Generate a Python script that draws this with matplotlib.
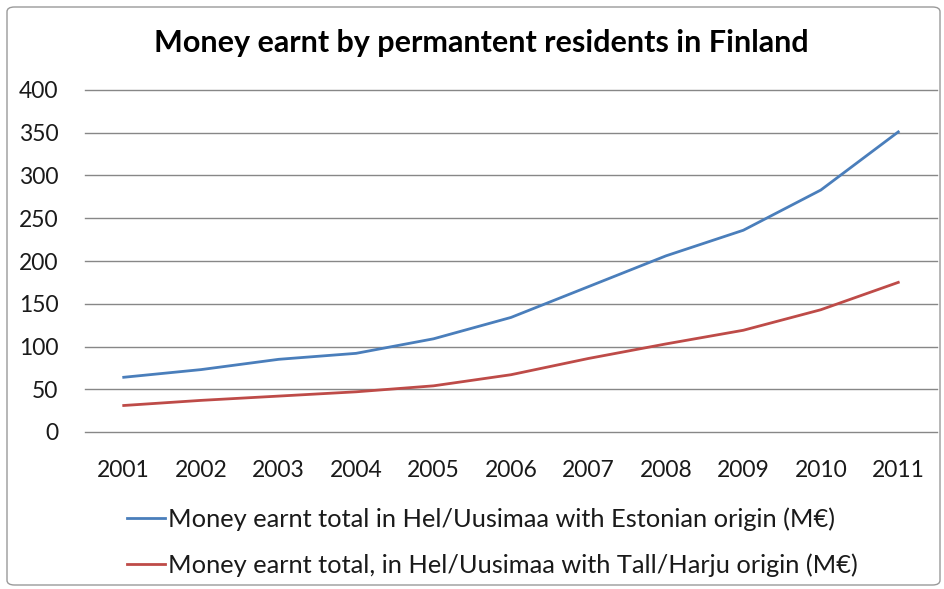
import matplotlib
matplotlib.use('Agg')
import matplotlib.pyplot as plt
from matplotlib.patches import FancyBboxPatch

plt.rcParams['font.family'] = ['Lato', 'DejaVu Sans']

years = ['2001', '2002', '2003', '2004', '2005', '2006',
         '2007', '2008', '2009', '2010', '2011']
estonian = [64, 73, 85, 92, 109, 134, 170, 206, 236, 283, 351]
tall_harju = [31, 37, 42, 47, 54, 67, 86, 103, 119, 143, 175]
y_ticks = [0, 50, 100, 150, 200, 250, 300, 350, 400]

label_est = 'Money earnt total in Hel/Uusimaa with Estonian origin (M€)'
label_th = 'Money earnt total, in Hel/Uusimaa with Tall/Harju origin (M€)'

W, H = 944, 589
fig = plt.figure(figsize=(W / 100, H / 100), dpi=100)

# rounded chart border like the excel chart frame
frame = FancyBboxPatch((7 / W, 4 / H), (933 / W), (578 / H),
                       boxstyle='round,pad=0,rounding_size=0.008',
                       transform=fig.transFigure, fill=False,
                       edgecolor='#9a9a9a', linewidth=1.0)
fig.patches.append(frame)

ax = fig.add_axes([85 / W, 157 / H, (937 - 85) / W, (432 - 90) / H])
x = list(range(len(years)))
l1, = ax.plot(x, estonian, color='#4A7EBB', linewidth=2.0)
l2, = ax.plot(x, tall_harju, color='#BE4B48', linewidth=2.0)

ax.set_xlim(-0.5, len(years) - 0.5)
ax.set_ylim(0, 400)
ax.set_yticks(y_ticks)
ax.set_xticks(x)
ax.set_xticklabels(years)
ax.yaxis.grid(True, color='#878787', linewidth=1.0)
for gl in ax.get_ygridlines():
    gl.set_clip_on(False)   # else the 0 line is cut in half
ax.set_axisbelow(True)
for s in ax.spines.values():
    s.set_visible(False)
ax.tick_params(axis='both', length=0, labelsize=16.5, colors='#1a1a1a')
ax.tick_params(axis='y', pad=19)
ax.tick_params(axis='x', pad=20)

fig.text(481 / W, 1 - 43 / H, 'Money earnt by permantent residents in Finland',
         ha='center', va='center', fontsize=22, fontweight='bold', color='#000000')

fig.legend([l1, l2], [label_est, label_th], loc='upper left',
           bbox_to_anchor=(127 / W, 1 - 507 / H), frameon=False,
           fontsize=18.3, handlelength=1.5, handletextpad=0.12,
           labelspacing=0.88, borderpad=0, borderaxespad=0,
           labelcolor='#1a1a1a')

fig.savefig('out.png', dpi=100)
